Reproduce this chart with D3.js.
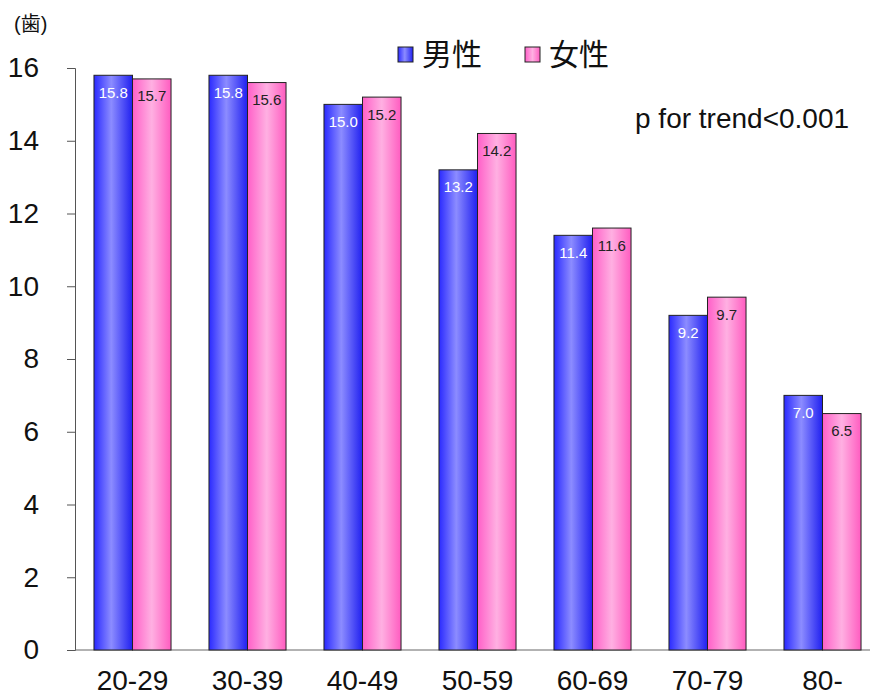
<!DOCTYPE html>
<html>
<head>
<meta charset="utf-8">
<script src="https://cdn.jsdelivr.net/npm/d3@7"></script>
<style>
  body { margin: 0; background: #fff; }
  svg text { font-family: "Liberation Sans", Arial, "Noto Sans CJK JP", sans-serif; }
</style>
</head>
<body>
<svg id="chart" width="870" height="697"></svg>
<script>
// Age groups and mean number of teeth by sex
const categories = ["20-29", "30-39", "40-49", "50-59", "60-69", "70-79", "80-"];
const male = [15.8, 15.8, 15.0, 13.2, 11.4, 9.2, 7.0];
const female = [15.7, 15.6, 15.2, 14.2, 11.6, 9.7, 6.5];
const seriesNames = ["男性", "女性"];
const yTicks = [0, 2, 4, 6, 8, 10, 12, 14, 16];

const svg = d3.select("#chart");
const defs = svg.append("defs");

function gradient(id, stops) {
  const g = defs.append("linearGradient").attr("id", id)
    .attr("x1", "0%").attr("x2", "100%").attr("y1", "0%").attr("y2", "0%");
  stops.forEach(([o, c]) => g.append("stop").attr("offset", o).attr("stop-color", c));
}
gradient("gMale", [["0%", "#2a2aff"], ["45%", "#8c8cff"], ["100%", "#2020f0"]]);
gradient("gFemale", [["0%", "#ff5fc8"], ["50%", "#ffb0e2"], ["100%", "#ff5cc0"]]);

const plotLeft = 75, plotRight = 880, plotTop = 68, plotBottom = 650;

const x = d3.scaleBand().domain(categories).range([plotLeft, plotRight]).paddingInner(0.33).paddingOuter(0.165);
const xs = d3.scaleBand().domain([0, 1]).range([0, x.bandwidth()]);
const y = d3.scaleLinear().domain([0, 16]).range([plotBottom, plotTop]);

// y axis
const yAxis = d3.axisLeft(y).tickValues(yTicks).tickSize(8).tickPadding(28).tickFormat(d3.format("d"));
const ya = svg.append("g").attr("transform", `translate(${plotLeft},0)`).call(yAxis);
ya.select(".domain").attr("stroke", "#555");
ya.selectAll(".tick line").attr("stroke", "#555");
ya.selectAll(".tick text").attr("font-size", 28).attr("fill", "#111");

// x axis baseline
svg.append("line").attr("x1", plotLeft).attr("x2", 870).attr("y1", plotBottom).attr("y2", plotBottom)
  .attr("stroke", "#666").attr("stroke-width", 1);

svg.append("g").selectAll("text").data(categories).join("text")
  .attr("x", d => x(d) + x.bandwidth() / 2)
  .attr("y", 690)
  .attr("text-anchor", "middle")
  .attr("font-size", 28).attr("fill", "#111")
  .text(d => d);

// bars
const rows = categories.map((c, i) => ({ c, vals: [male[i], female[i]] }));
const grp = svg.append("g").selectAll("g").data(rows).join("g")
  .attr("transform", d => `translate(${x(d.c)},0)`);

grp.selectAll("rect").data(d => d.vals.map((v, k) => ({ v, k }))).join("rect")
  .attr("x", d => xs(d.k))
  .attr("y", d => y(d.v))
  .attr("width", xs.bandwidth())
  .attr("height", d => y(0) - y(d.v))
  .attr("fill", d => d.k === 0 ? "url(#gMale)" : "url(#gFemale)")
  .attr("stroke", "#222").attr("stroke-width", 1);

grp.selectAll("text").data(d => d.vals.map((v, k) => ({ v, k }))).join("text")
  .attr("x", d => xs(d.k) + xs.bandwidth() / 2)
  .attr("y", d => y(d.v) + 22.5)
  .attr("text-anchor", "middle")
  .attr("font-size", 15)
  .attr("fill", d => d.k === 0 ? "#fff" : "#222")
  .text(d => d.v.toFixed(1));

// unit label
svg.append("text").attr("x", 14).attr("y", 31).attr("font-size", 20).attr("fill", "#111").text("(歯)");

// legend
const legend = svg.append("g");
const legendX = [398, 525];
seriesNames.forEach((n, k) => {
  legend.append("rect").attr("x", legendX[k]).attr("y", 47).attr("width", 15).attr("height", 15)
    .attr("fill", k === 0 ? "url(#gMale)" : "url(#gFemale)").attr("stroke", "#222");
  legend.append("text").attr("x", legendX[k] + 24).attr("y", 65).attr("font-size", 30)
    .attr("fill", "#111").text(n);
});

// trend annotation
svg.append("text").attr("x", 635).attr("y", 128).attr("font-size", 28).attr("fill", "#111")
  .text("p for trend<0.001");
</script>
</body>
</html>
